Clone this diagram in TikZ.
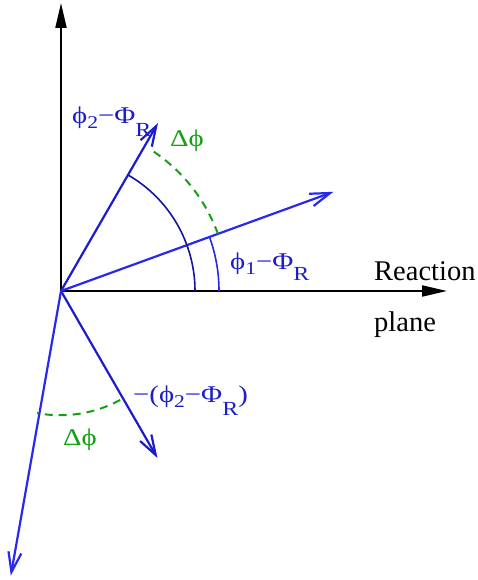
\documentclass[tikz,border=0pt]{standalone}
\usepackage{fontspec}
\setmainfont{Liberation Serif}
\newfontfamily\greekfont[FakeStretch=1.2]{Liberation Serif}
\usetikzlibrary{arrows.meta}
\definecolor{vecblue}{RGB}{28, 28, 205}
\definecolor{vecbright}{RGB}{40, 40, 240}
\definecolor{arcnavy}{RGB}{20, 20, 160}
\definecolor{arcblue}{RGB}{40, 40, 230}
\definecolor{dphigreen}{RGB}{20, 160, 20}
\definecolor{labblue}{RGB}{30, 30, 200}
\newcommand{\lowsub}[3]{\raisebox{-#1}{\fontsize{#2}{#2}\selectfont #3}}

\begin{document}
\begin{tikzpicture}[x=1bp, y=1bp,
    axis/.style={black, line width=2bp, -{Triangle[length=25bp,width=11bp]}},
    vec/.style={line width=2.2bp, -{Straight Barb[length=20bp,width=13bp]}},
    angarc/.style={line width=1.6bp},
    dphi/.style={dphigreen, line width=2bp, dash pattern=on 8bp off 6bp},
    lab/.style={anchor=base west, inner sep=0pt, text=labblue, font=\greekfont\fontsize{24bp}{26bp}\selectfont}]
    \useasboundingbox (-61,-289) rectangle (417,291);

    %% axes
    \coordinate (O) at (0,0);
    \coordinate (ytip) at (0,288);
    \coordinate (xtip) at (386,0);
    \draw[axis] (O) -- (ytip);
    \draw[axis] (O) -- (xtip);
    \node[anchor=base west, inner sep=0pt, font=\fontsize{28.5bp}{30bp}\selectfont] (react) at (313,10) {Reaction};
    \node[anchor=base west, inner sep=0pt, font=\fontsize{28.5bp}{30bp}\selectfont] (plane) at (313,-41) {plane};

    %% the four vectors
    \coordinate (v2) at (60:194);
    \coordinate (v1) at (20:290);
    \coordinate (m2) at (-60:193);
    \coordinate (m1) at (-100:289);
    \draw[vec, vecblue] (O) -- (v2);
    \draw[vec, vecbright] (O) -- (v1);
    \draw[vec, vecblue] (O) -- (m2);
    \draw[vec, vecbright] (O) -- (m1);

    %% angles
    \draw[angarc, arcnavy] (0:134) arc[start angle=0, end angle=60, radius=134];
    \draw[angarc, arcblue] (0:158) arc[start angle=0, end angle=20, radius=158];
    \draw[dphi] (20:167) arc[start angle=20, end angle=56, radius=169];
    \draw[dphi] (-61.5:124) arc[start angle=-61.5, end angle=-100.5, radius=126];

    %% labels
    \node[lab] (lv2) at (11,167) {ϕ\lowsub{5bp}{18bp}{2}−Φ\lowsub{13bp}{20bp}{R}};
    \node[lab] (lv1) at (169,21) {ϕ\lowsub{5bp}{18bp}{1}−Φ\lowsub{11bp}{20bp}{R}};
    \node[lab] (lm2) at (72,-111) {−(ϕ\lowsub{5bp}{18bp}{2}−Φ\lowsub{13bp}{20bp}{R})};
    \node[lab, text=dphigreen] (dtop) at (109,144) {Δϕ};
    \node[lab, text=dphigreen] (dlow) at (2,-154) {Δϕ};
\end{tikzpicture}
\end{document}
